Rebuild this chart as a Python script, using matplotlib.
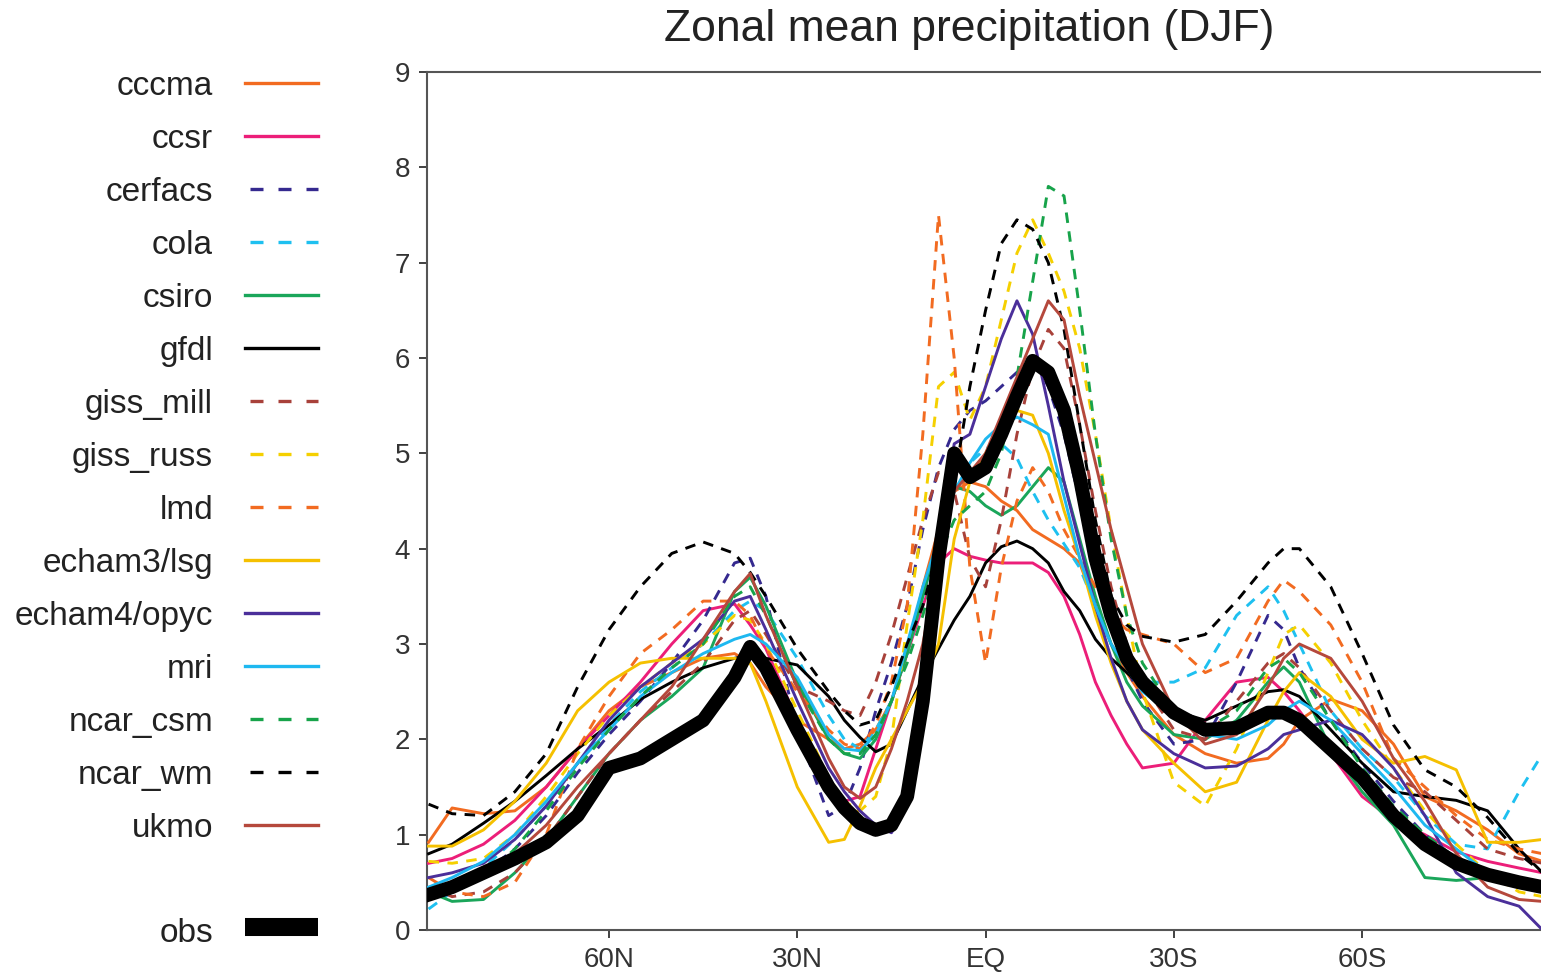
import matplotlib
matplotlib.use('Agg')
import matplotlib.pyplot as plt

plt.rcParams['font.family'] = ['Liberation Sans', 'DejaVu Sans']

# latitude (deg, N positive)
lat = [88.75, 85, 80, 75, 70, 65, 60, 55, 50, 45,
       40, 37.5, 35, 30, 25, 22.5, 20, 17.5, 15, 12.5,
       10, 7.5, 5, 2.5, 0, -2.5, -5, -7.5, -10, -12.5,
       -15, -17.5, -20, -22.5, -25, -30, -35, -40, -45, -47.5,
       -50, -55, -60, -65, -70, -75, -80, -85, -88.75]

# zonal mean precipitation (mm/day)
cccma = [0.92, 1.28, 1.22, 1.25, 1.5, 1.9, 2.3, 2.55, 2.7, 2.85,
         2.9, 2.8, 2.55, 2.2, 2.0, 1.9, 1.95, 2.1, 2.4, 2.9,
         3.6, 4.2, 4.6, 4.7, 4.65, 4.5, 4.4, 4.2, 4.1, 4.0,
         3.85, 3.4, 3.0, 2.7, 2.45, 2.05, 1.85, 1.75, 1.8, 1.95,
         2.2, 2.42, 2.3, 1.95, 1.4, 1.25, 1.05, 0.8, 0.72]
ccsr = [0.7, 0.75, 0.9, 1.15, 1.5, 1.9, 2.25, 2.6, 3.0, 3.35,
        3.42, 3.2, 2.95, 2.2, 1.5, 1.35, 1.4, 1.9, 2.4, 2.9,
        3.4, 3.85, 4.0, 3.92, 3.88, 3.85, 3.85, 3.85, 3.75, 3.5,
        3.1, 2.6, 2.25, 1.95, 1.7, 1.75, 2.2, 2.6, 2.65, 2.5,
        2.3, 1.85, 1.4, 1.15, 1.0, 0.82, 0.72, 0.65, 0.6]
cerfacs = [0.42, 0.5, 0.6, 0.85, 1.2, 1.65, 2.05, 2.4, 2.8, 3.25,
           3.85, 3.9, 3.5, 2.1, 1.2, 1.3, 1.7, 2.3, 2.8, 3.4,
           4.2, 4.85, 5.25, 5.45, 5.55, 5.7, 5.85, 6.0, 5.7, 5.2,
           4.5, 3.8, 3.2, 2.75, 2.4, 1.95, 2.0, 2.6, 3.3, 3.15,
           2.75, 2.2, 1.75, 1.35, 1.0, 0.75, 0.6, 0.45, 0.4]
cola = [0.22, 0.4, 0.65, 0.95, 1.3, 1.75, 2.15, 2.5, 2.75, 3.0,
        3.35, 3.45, 3.35, 2.85, 2.25, 2.0, 1.9, 2.1, 2.4, 2.9,
        3.5, 4.1, 4.6, 4.9, 5.05, 5.1, 4.95, 4.6, 4.3, 4.05,
        3.8, 3.4, 3.0, 2.75, 2.6, 2.6, 2.75, 3.3, 3.6, 3.35,
        3.0, 2.3, 1.9, 1.6, 1.2, 0.9, 0.85, 1.45, 1.85]
csiro = [0.4, 0.3, 0.32, 0.6, 0.95, 1.4, 1.85, 2.2, 2.45, 2.75,
         3.55, 3.7, 3.4, 2.6, 2.0, 1.85, 1.8, 2.0, 2.4, 2.9,
         3.5, 4.1, 4.65, 4.6, 4.45, 4.35, 4.45, 4.65, 4.85, 4.7,
         4.1, 3.5, 3.0, 2.6, 2.35, 2.05, 2.0, 2.2, 2.6, 2.76,
         2.6, 1.9, 1.45, 1.1, 0.55, 0.52, 0.55, 0.52, 0.5]
gfdl = [0.8, 0.9, 1.12, 1.35, 1.62, 1.9, 2.15, 2.42, 2.6, 2.75,
        2.85, 2.88, 2.85, 2.78, 2.45, 2.2, 2.02, 1.87, 1.95, 2.3,
        2.65, 2.95, 3.25, 3.5, 3.85, 4.02, 4.08, 4.0, 3.85, 3.55,
        3.35, 3.05, 2.85, 2.7, 2.55, 2.3, 2.2, 2.35, 2.5, 2.52,
        2.45, 2.1, 1.75, 1.45, 1.4, 1.36, 1.25, 0.85, 0.6]
giss_mill = [0.45, 0.35, 0.4, 0.6, 0.95, 1.4, 1.85, 2.2, 2.5, 2.8,
             3.25, 3.35, 3.1, 2.55, 2.4, 2.3, 2.25, 2.6, 3.1, 3.7,
             4.3, 4.8, 4.6, 3.9, 3.6, 4.3, 5.2, 5.9, 6.3, 6.1,
             5.3, 4.4, 3.6, 3.0, 2.6, 2.1, 2.0, 2.4, 2.8, 2.9,
             2.75, 2.3, 1.9, 1.6, 1.45, 1.15, 0.85, 0.75, 0.7]
giss_russ = [0.72, 0.7, 0.75, 1.0, 1.4, 1.85, 2.25, 2.55, 2.8, 3.0,
             3.3, 3.25, 3.0, 2.3, 1.6, 1.35, 1.25, 1.4, 2.0, 3.2,
             4.3, 5.7, 5.85, 5.35, 5.7, 6.4, 7.1, 7.45, 7.1, 6.7,
             6.1, 5.2, 4.2, 3.3, 2.5, 1.55, 1.3, 1.9, 2.7, 3.1,
             3.2, 2.8, 2.2, 1.7, 1.25, 0.9, 0.6, 0.4, 0.35]
lmd = [0.55, 0.4, 0.35, 0.5, 1.0, 1.9, 2.45, 2.9, 3.15, 3.45,
       3.45, 3.3, 2.95, 2.5, 2.1, 1.95, 1.9, 2.15, 2.6, 3.4,
       5.2, 7.5, 6.0, 3.8, 2.8, 3.8, 4.5, 4.85, 4.6, 4.2,
       3.9, 3.6, 3.3, 3.15, 3.1, 3.0, 2.7, 2.85, 3.45, 3.67,
       3.55, 3.2, 2.6, 1.8, 1.5, 1.2, 0.95, 0.85, 0.8]
echam3 = [0.88, 0.88, 1.05, 1.35, 1.75, 2.3, 2.6, 2.8, 2.85, 2.85,
          2.85, 2.8, 2.4, 1.5, 0.92, 0.95, 1.3, 1.7, 2.0, 2.3,
          2.6, 3.0, 4.1, 4.7, 5.0, 5.3, 5.45, 5.4, 5.0, 4.4,
          3.9, 3.3, 2.8, 2.4, 2.1, 1.75, 1.45, 1.55, 2.2, 2.5,
          2.7, 2.45, 2.0, 1.75, 1.82, 1.68, 0.92, 0.92, 0.95]
echam4 = [0.55, 0.6, 0.7, 0.95, 1.3, 1.75, 2.2, 2.55, 2.8, 3.05,
          3.45, 3.5, 3.15, 2.4, 1.7, 1.45, 1.25, 1.1, 1.02, 1.3,
          2.5, 4.0, 5.1, 5.2, 5.7, 6.2, 6.6, 6.25, 5.5, 4.7,
          4.05, 3.4, 2.85, 2.4, 2.1, 1.85, 1.7, 1.72, 1.9, 2.05,
          2.1, 2.2, 2.05, 1.7, 1.2, 0.6, 0.35, 0.25, 0.0]
mri = [0.45, 0.55, 0.72, 1.0, 1.35, 1.75, 2.1, 2.45, 2.7, 2.9,
       3.05, 3.1, 3.0, 2.65, 2.05, 1.9, 1.88, 2.05, 2.4, 3.0,
       3.6, 4.1, 4.6, 4.9, 5.15, 5.3, 5.38, 5.3, 5.2, 4.55,
       3.9, 3.4, 3.0, 2.75, 2.5, 2.25, 2.05, 2.0, 2.15, 2.3,
       2.4, 2.2, 1.85, 1.5, 1.1, 0.85, 0.6, 0.45, 0.4]
ncar_csm = [0.35, 0.4, 0.55, 0.85, 1.25, 1.7, 2.1, 2.45, 2.75, 3.0,
            3.5, 3.6, 3.3, 2.55, 2.0, 1.85, 1.85, 2.05, 2.4, 2.8,
            3.3, 3.9, 4.3, 4.45, 4.6, 5.0, 5.8, 6.8, 7.8, 7.7,
            6.5, 5.2, 4.1, 3.3, 2.8, 2.3, 2.1, 2.3, 2.75, 2.85,
            2.7, 2.2, 1.7, 1.3, 1.0, 0.75, 0.6, 0.55, 0.5]
ncar_wm = [1.32, 1.22, 1.2, 1.45, 1.85, 2.55, 3.15, 3.6, 3.95, 4.07,
           3.95, 3.75, 3.5, 2.95, 2.5, 2.3, 2.15, 2.2, 2.55, 3.0,
           3.4, 4.0, 4.7, 5.7, 6.5, 7.2, 7.45, 7.35, 7.0, 6.3,
           5.3, 4.3, 3.5, 3.2, 3.08, 3.02, 3.1, 3.45, 3.85, 4.0,
           4.0, 3.6, 2.9, 2.15, 1.68, 1.5, 1.18, 0.8, 0.6]
ukmo = [0.35, 0.4, 0.55, 0.8, 1.1, 1.5, 1.85, 2.2, 2.55, 3.05,
        3.55, 3.74, 3.3, 2.55, 1.8, 1.5, 1.38, 1.5, 1.9, 2.4,
        3.0, 3.9, 4.6, 4.8, 5.0, 5.4, 5.8, 6.2, 6.6, 6.4,
        5.6, 4.9, 4.2, 3.6, 3.0, 2.3, 1.95, 2.05, 2.55, 2.85,
        3.0, 2.85, 2.4, 1.8, 1.35, 0.8, 0.45, 0.32, 0.3]
obs = [0.37, 0.45, 0.6, 0.75, 0.92, 1.2, 1.7, 1.8, 2.0, 2.2,
       2.65, 2.97, 2.75, 2.1, 1.5, 1.28, 1.12, 1.05, 1.1, 1.4,
       2.4, 3.9, 5.0, 4.75, 4.85, 5.2, 5.6, 5.97, 5.85, 5.45,
       4.75, 3.9, 3.3, 2.85, 2.6, 2.28, 2.1, 2.12, 2.28, 2.28,
       2.2, 1.9, 1.6, 1.2, 0.9, 0.7, 0.58, 0.5, 0.45]

models = ['cccma', 'ccsr', 'cerfacs', 'cola', 'csiro', 'gfdl', 'giss_mill',
          'giss_russ', 'lmd', 'echam3/lsg', 'echam4/opyc', 'mri',
          'ncar_csm', 'ncar_wm', 'ukmo']
series = [cccma, ccsr, cerfacs, cola, csiro, gfdl, giss_mill, giss_russ,
          lmd, echam3, echam4, mri, ncar_csm, ncar_wm, ukmo]

xticks = [60, 30, 0, -30, -60]
xlabels = ['60N', '30N', 'EQ', '30S', '60S']
yticks = list(range(10))

colors = ['#f26b21', '#ec1e79', '#35298f', '#1ec0f0', '#1aa65a', '#000000',
          '#a8413a', '#f5d000', '#f26b21', '#f5c000', '#4b2f9a', '#1eb8f0',
          '#17a34a', '#000000', '#b5483c']
dashed = [False, False, True, True, False, False, True, True, True,
          False, False, False, True, True, False]

W, H = 1541, 973
fig = plt.figure(figsize=(W / 100, H / 100), dpi=100)

# main panel
ax = fig.add_axes([427 / W, 43 / H, 1 - 427 / W, (930 - 72) / H])
for name, vals, c, d in zip(models, series, colors, dashed):
    ls = (0, (3.6, 2.9)) if d else '-'
    ax.plot(lat, vals, color=c, lw=2.1, ls=ls, zorder=3)
ax.plot(lat, obs, color='black', lw=10, solid_joinstyle='round', zorder=5)

ax.set_xlim(89, -88.5)
ax.set_ylim(0, 9)
ax.set_xticks(xticks)
ax.set_xticklabels(xlabels)
ax.set_yticks(yticks)
ax.tick_params(direction='out', length=6, width=1.3, labelsize=20,
               colors='#333333', pad=6)
for s in ['left', 'bottom', 'top']:
    ax.spines[s].set_color('#555555')
    ax.spines[s].set_linewidth(1.5)
ax.spines['right'].set_visible(False)

fig.text(969 / W, 1 - 30 / H, 'Zonal mean precipitation (DJF)',
         ha='center', va='center', fontsize=32, color='#222222')

# hand-made legend on the left
lg = fig.add_axes([0, 0, 400 / W, 1])
lg.set_xlim(0, 400)
lg.set_ylim(H, 0)
lg.axis('off')
for i, (name, c, d) in enumerate(zip(models, colors, dashed)):
    y = 83 + 53 * i
    lg.text(213, y, name, ha='right', va='center_baseline', fontsize=24,
            color='#222222')
    if d:
        lg.plot([250, 318], [y, y], color=c, lw=2.4, ls=(0, (3.9, 4.5)))
    else:
        lg.plot([245, 318], [y, y], color=c, lw=2.4)
lg.text(213, 930, 'obs', ha='right', va='center_baseline', fontsize=24,
        color='#222222')
lg.plot([245, 318], [927, 927], color='black', lw=13, solid_capstyle='butt')

fig.savefig('out.png', dpi=100)
